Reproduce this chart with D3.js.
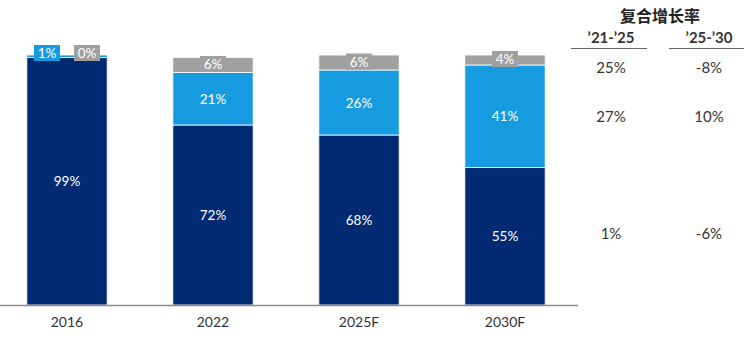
<!DOCTYPE html>
<html>
<head>
<meta charset="utf-8">
<script src="https://cdn.jsdelivr.net/npm/d3@7"></script>
<style>
  body { margin: 0; background: #fff; }
  svg { display: block; font-family: Lato, "Open Sans", sans-serif; }
</style>
</head>
<body>
<svg id="chart" width="744" height="359"></svg>
<script>
const categories = ["2016", "2022", "2025F", "2030F"];
const darkValues = [99, 72, 68, 55];
const lightValues = [1, 21, 26, 41];
const grayValues = [0, 6, 6, 4];
const cagrTitle = "复合增长率";
const cagrHeaders = ["\u201921-\u201925", "\u201925-\u201930"];
const cagrGray = ["25%", "-8%"];
const cagrLight = ["27%", "10%"];
const cagrDark = ["1%", "-6%"];

const colors = { dark: "#032b73", light: "#169be0", gray: "#a0a0a0" };

const svg = d3.select("#chart");
const x = d3.scaleBand().domain(categories).range([-6, 578]).paddingInner(0.45).paddingOuter(0.225);
const y = d3.scaleLinear().domain([0, 100]).range([305, 55]);

const data = categories.map((c, i) => ({ cat: c, dark: darkValues[i], light: lightValues[i], gray: grayValues[i] }));
const keys = ["dark", "light", "gray"];
const stack = d3.stack().keys(keys)(data);

svg.append("g").selectAll("g").data(stack).join("g")
  .attr("fill", d => colors[d.key])
  .selectAll("rect").data(d => d).join("rect")
  .attr("x", d => x(d.data.cat))
  .attr("width", x.bandwidth())
  .attr("y", d => y(d[1]))
  .attr("height", d => Math.max(0, y(d[0]) - y(d[1])))
  .attr("stroke", "#ffffff").attr("stroke-width", 0.8);

// axis line
svg.append("line").attr("x1", 0).attr("x2", 578).attr("y1", y(0) + 0.5).attr("y2", y(0) + 0.5)
  .attr("stroke", "#8a8a8a").attr("stroke-width", 1.5);

// category labels
svg.append("g").selectAll("text").data(categories).join("text")
  .attr("x", d => x(d) + x.bandwidth() / 2).attr("y", 327)
  .attr("text-anchor", "middle").attr("font-size", 14).attr("fill", "#333")
  .text(d => d);

// labels inside dark/light
const labelG = svg.append("g");
stack.forEach(layer => {
  layer.forEach(d => {
    const v = d.data[layer.key];
    const cx = x(d.data.cat) + x.bandwidth() / 2;
    const cy = (y(d[0]) + y(d[1])) / 2;
    if (layer.key !== "gray" && v >= 10) {
      labelG.append("text").attr("x", cx).attr("y", cy + 5)
        .attr("text-anchor", "middle").attr("font-size", 13.5).attr("fill", "#fff").text(v + "%");
    }
  });
});

// boxed labels (gray segments and small 2016 segments)
function boxLabel(cx, cy, txt, fill) {
  labelG.append("rect").attr("x", cx - 13).attr("y", cy - 8).attr("width", 26).attr("height", 16).attr("fill", fill);
  labelG.append("text").attr("x", cx).attr("y", cy + 5).attr("text-anchor", "middle")
    .attr("font-size", 13.5).attr("fill", "#fff").text(txt);
}
data.forEach((d, i) => {
  const cx = x(d.cat) + x.bandwidth() / 2;
  if (d.gray >= 2) {
    const top = y(d.dark + d.light + d.gray), bot = y(d.dark + d.light);
    boxLabel(cx, (top + bot) / 2 - 1, d.gray + "%", colors.gray);
  } else {
    const top = y(d.dark + d.light + d.gray);
    boxLabel(cx - 20, top - 2, d.light + "%", colors.light);
    boxLabel(cx + 20, top - 2, d.gray + "%", colors.gray);
  }
});

// CAGR table
const colX = [611, 709];
const tg = svg.append("g").attr("fill", "#333");
tg.append("text").attr("x", (colX[0] + colX[1]) / 2).attr("y", 22).attr("text-anchor", "middle")
  .attr("font-size", 16).attr("font-weight", "bold").attr("font-family", "'Noto Sans CJK SC', sans-serif")
  .attr("fill", "#222").text(cagrTitle);
cagrHeaders.forEach((h, i) => {
  tg.append("text").attr("x", colX[i]).attr("y", 43).attr("text-anchor", "middle")
    .attr("font-size", 15).attr("font-weight", "bold").text(h);
  tg.append("line").attr("x1", colX[i] - 40).attr("x2", colX[i] + 36).attr("y1", 48.5).attr("y2", 48.5)
    .attr("stroke", "#666").attr("stroke-width", 1.2);
});
const rows = [[cagrGray, 73], [cagrLight, 122], [cagrDark, 239]];
rows.forEach(([vals, yy]) => {
  vals.forEach((v, i) => {
    tg.append("text").attr("x", colX[i]).attr("y", yy).attr("text-anchor", "middle")
      .attr("font-size", 15).text(v);
  });
});
</script>
</body>
</html>
